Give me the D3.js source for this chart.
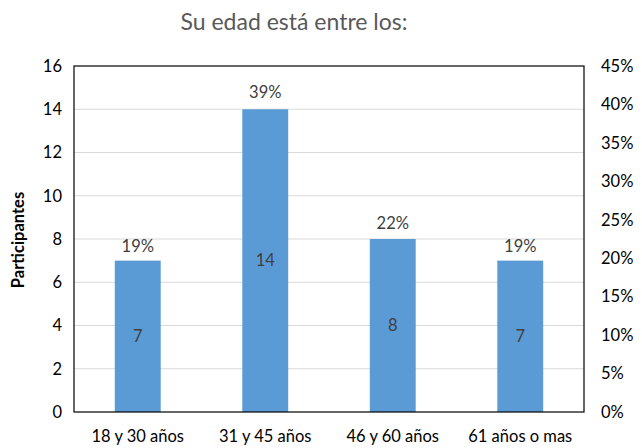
<!DOCTYPE html>
<html><head><meta charset="utf-8">
<script src="https://cdn.jsdelivr.net/npm/d3@7/dist/d3.min.js"></script>
<style>body{margin:0;background:#fff}svg{display:block}</style>
</head><body>
<svg id="c" width="642" height="448"></svg>
<script>
const categories = ["18 y 30 años", "31 y 45 años", "46 y 60 años", "61 años o mas"];
const counts = [7, 14, 8, 7];
const percents = [0.19, 0.39, 0.22, 0.19];
const leftTicks = [0, 2, 4, 6, 8, 10, 12, 14, 16];
const rightTicks = [0, 0.05, 0.10, 0.15, 0.20, 0.25, 0.30, 0.35, 0.40, 0.45];
const title = "Su edad está entre los:";
const yTitle = "Participantes";

const font = "Lato, 'Open Sans', sans-serif";
const fs = 16.5;
const svg = d3.select("#c");
const m = {l: 74, r: 584, t: 66, b: 412};

const x = d3.scaleBand().domain(categories).range([m.l, m.r]).paddingInner(0.64).paddingOuter(0.32);
const y = d3.scaleLinear().domain([0, 16]).range([m.b, m.t]);
const y2 = d3.scaleLinear().domain([0, 0.45]).range([m.b, m.t]);

// gridlines
svg.append("g").selectAll("line").data(leftTicks.filter(d => d > 0 && d < 16)).join("line")
  .attr("x1", m.l).attr("x2", m.r).attr("y1", d => y(d)).attr("y2", d => y(d))
  .attr("stroke", "#d9d9d9").attr("stroke-width", 1);

// bars
svg.append("g").selectAll("rect").data(counts).join("rect")
  .attr("x", (d, i) => x(categories[i])).attr("width", x.bandwidth())
  .attr("y", d => y(d)).attr("height", d => y(0) - y(d))
  .attr("fill", "#5b9bd5");

// border
svg.append("rect").attr("x", m.l).attr("y", m.t).attr("width", m.r - m.l).attr("height", m.b - m.t)
  .attr("fill", "none").attr("stroke", "#000").attr("stroke-width", 1.2);

// left axis
const la = d3.axisLeft(y).tickValues(leftTicks).tickSize(0).tickPadding(12);
svg.append("g").attr("transform", `translate(${m.l},0)`).call(la)
  .call(g => g.select(".domain").remove())
  .selectAll("text").attr("font-family", font).attr("font-size", fs).attr("fill", "#000");

// right axis
const ra = d3.axisRight(y2).tickValues(rightTicks).tickSize(0).tickPadding(17).tickFormat(d3.format(".0%"));
svg.append("g").attr("transform", `translate(${m.r},0)`).call(ra)
  .call(g => g.select(".domain").remove())
  .selectAll("text").attr("font-family", font).attr("font-size", fs).attr("fill", "#000");

// bottom axis
const ba = d3.axisBottom(x).tickSize(0).tickPadding(18);
svg.append("g").attr("transform", `translate(0,${m.b})`).call(ba)
  .call(g => g.select(".domain").remove())
  .selectAll("text").attr("font-family", font).attr("font-size", fs).attr("fill", "#000");

// inside labels
svg.append("g").selectAll("text").data(counts).join("text")
  .attr("x", (d, i) => x(categories[i]) + x.bandwidth() / 2)
  .attr("y", d => (y(d) + y(0)) / 2).attr("dy", "0.35em")
  .attr("text-anchor", "middle").attr("font-family", font).attr("font-size", fs)
  .attr("fill", "#404040").text(d => d);

// percent labels
svg.append("g").selectAll("text").data(percents).join("text")
  .attr("x", (d, i) => x(categories[i]) + x.bandwidth() / 2)
  .attr("y", d => y2(d) - 20).attr("dy", "0.35em")
  .attr("text-anchor", "middle").attr("font-family", font).attr("font-size", fs)
  .attr("fill", "#404040").text(d => d3.format(".0%")(d));

// title
svg.append("text").attr("x", 294).attr("y", 30).attr("text-anchor", "middle")
  .attr("font-family", font).attr("font-size", 23).attr("fill", "#595959").text(title);

// y title
svg.append("text").attr("transform", `translate(24,240) rotate(-90)`)
  .attr("text-anchor", "middle").attr("font-family", font).attr("font-size", fs)
  .attr("font-weight", "bold").attr("fill", "#000").text(yTitle);
</script>
</body></html>
